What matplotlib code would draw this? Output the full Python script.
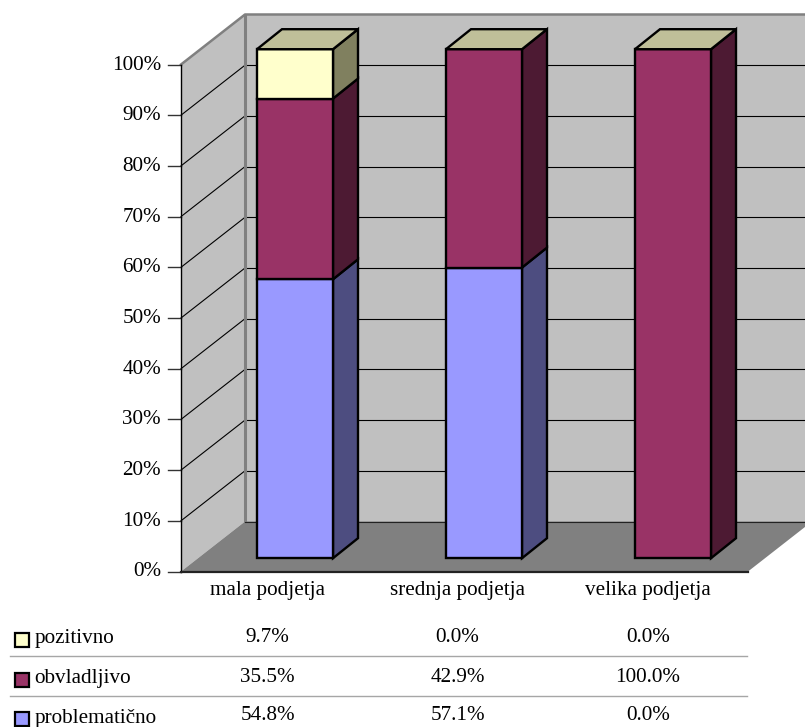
import matplotlib
matplotlib.use('Agg')
import matplotlib.pyplot as plt
from matplotlib.patches import Polygon, Rectangle

categories = ['mala podjetja', 'srednja podjetja', 'velika podjetja']
series = ['problematično', 'obvladljivo', 'pozitivno']
problematicno = [54.8, 57.1, 0.0]
obvladljivo = [35.5, 42.9, 100.0]
pozitivno = [9.7, 0.0, 0.0]
yticks = [0, 10, 20, 30, 40, 50, 60, 70, 80, 90, 100]

front_colors = ['#9999FF', '#993366', '#FFFFCC']
side_colors = ['#4D4D80', '#4D1A33', '#80805F']
top_color = '#BFBF99'

plt.rcParams['font.family'] = ['Liberation Serif', 'DejaVu Serif']
FS = 15.2

fig = plt.figure(figsize=(8.05, 7.27), dpi=100)
ax = fig.add_axes([0, 0, 1, 1])
ax.set_xlim(0, 805)
ax.set_ylim(727, 0)
ax.axis('off')

# axis box in pixel units
x0, x1 = 181, 748
y0, y100 = 571.5, 64.5
dx, dy = 64, -50
bar_bottom, bar_height = 558.2, 509
bar_left = [257, 446, 635]
bar_w = 76
bdx, bdy = 25, -20


def val_y(v):
    return y0 - (y0 - y100) * v / 100


def bar_y(v):
    return bar_bottom - bar_height * v / 100


# walls and floor
ax.add_patch(Polygon([(x0, y0), (x0 + dx, y0 + dy), (x0 + dx, y100 + dy), (x0, y100)],
                     fc='#C0C0C0', ec='none', zorder=1))
ax.add_patch(Rectangle((x0 + dx, y100 + dy), 600, y0 - y100, fc='#C0C0C0', ec='none', zorder=1))
ax.add_patch(Polygon([(x0, y0), (x1, y0), (x1 + dx, y0 + dy), (x0 + dx, y0 + dy)],
                     fc='#808080', ec='none', zorder=2))

# gridlines on the side and back walls
for t in yticks[1:-1]:
    y = val_y(t)
    ax.plot([x0, x0 + dx], [y, y + dy], color='black', lw=0.8, zorder=1.5)
    ax.plot([x0 + dx, 810], [y + dy, y + dy], color='black', lw=0.8, zorder=1.5)
ax.plot([x0 + dx, 810], [y0 + dy, y0 + dy], color='#222222', lw=0.8, zorder=2.1)
for t in yticks:
    ax.plot([x0 - 13, x0], [val_y(t), val_y(t)], color='#333333', lw=1, zorder=3)

# wall outlines
ax.plot([x0, x0 + dx, 810], [y100, y100 + dy, y100 + dy], color='#808080', lw=1.8, zorder=1.6)
ax.plot([x0 + dx, x0 + dx], [y100 + dy, y0 + dy], color='#808080', lw=2.2, zorder=1.6)
ax.plot([x0, x0], [y100, y0], color='black', lw=1, zorder=3)
ax.plot([x0, x1], [y0, y0], color='#222222', lw=1.6, zorder=3)

for t in yticks:
    ax.text(x0 - 20, val_y(t) + 0.5, f'{t}%', ha='right', va='center', fontsize=FS, zorder=5)

# stacked bars
for i, left in enumerate(bar_left):
    base = 0
    stack = [problematicno[i], obvladljivo[i], pozitivno[i]]
    for j, v in enumerate(stack):
        if v == 0:
            continue
        yb, yt = bar_y(base), bar_y(base + v)
        right = left + bar_w
        ax.add_patch(Polygon([(right, yb), (right + bdx, yb + bdy), (right + bdx, yt + bdy), (right, yt)],
                             fc=side_colors[j], ec='black', lw=1.7, zorder=4))
        ax.add_patch(Rectangle((left, yt), bar_w, yb - yt, fc=front_colors[j], ec='black', lw=1.7, zorder=4.1))
        base += v
    yt = bar_y(base)
    ax.add_patch(Polygon([(left, yt), (left + bdx, yt + bdy), (left + bar_w + bdx, yt + bdy), (left + bar_w, yt)],
                         fc=top_color, ec='black', lw=1.7, zorder=4.2))

# data table under the axis
centers = [267.5, 457.5, 648]
for c, name in zip(centers, categories):
    ax.text(c, 591, name, ha='center', va='center', fontsize=FS)

rows = [('pozitivno', pozitivno, 2, 639.5), ('obvladljivo', obvladljivo, 1, 679.5), ('problematično', problematicno, 0, 718.5)]
for name, vals, k, y in rows:
    ax.add_patch(Rectangle((14.5, y - 7), 14, 14, fc=front_colors[k], ec='black', lw=1.6))
    ax.text(34.5, y - 0.5, name, ha='left', va='center', fontsize=FS)
    for c, v in zip(centers, vals):
        ax.text(c, y - 2.5, f'{v:.1f}%', ha='center', va='center', fontsize=FS)
for y in [656, 696]:
    ax.plot([10, 747], [y, y], color='#A6A6A6', lw=1)

fig.savefig('out.png', dpi=100)
